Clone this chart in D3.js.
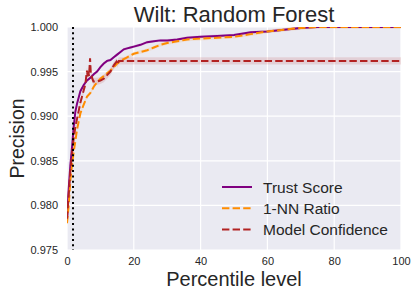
<!DOCTYPE html>
<html>
<head>
<meta charset="utf-8">
<script src="https://cdn.jsdelivr.net/npm/d3@7"></script>
<style>
  body { margin: 0; background: #fff; }
  svg { display: block; font-family: "Liberation Sans", Arial, sans-serif; }
</style>
</head>
<body>
<svg width="417" height="297"></svg>
<script>
// percentile levels and precision
var trustX = [0, 0.5, 1, 1.5, 2, 2.5, 3, 3.5, 4, 5, 6, 7, 8, 9, 10, 11, 12, 13, 14, 15, 16, 17, 18, 19, 20, 22, 24, 26, 28, 30, 33, 36, 40, 45, 50, 55, 60, 65, 70, 75, 80, 90, 100];
var trustY = [0.9783, 0.9818, 0.9845, 0.9865, 0.9888, 0.9905, 0.9914, 0.9921, 0.9928, 0.9935, 0.9940, 0.9943, 0.9947, 0.9950, 0.9955, 0.9959, 0.9962, 0.9963, 0.9966, 0.9969, 0.9972, 0.9975, 0.9976, 0.9977, 0.9978, 0.9980, 0.9983, 0.9984, 0.9985, 0.9985, 0.9986, 0.9988, 0.9989, 0.9990, 0.9991, 0.9994, 0.9995, 0.9997, 0.9999, 1.0, 1.0, 1.0, 1.0];

var nnX = [0, 0.5, 1, 1.5, 2, 2.5, 3, 3.5, 4, 5, 6, 7, 8, 9, 10, 11, 12, 13, 14, 15, 16, 17, 18, 19, 20, 22, 24, 26, 28, 30, 33, 36, 40, 45, 50, 55, 60, 65, 70, 75, 80, 90, 100];
var nnY = [0.9780, 0.9800, 0.9828, 0.9845, 0.9860, 0.9872, 0.9885, 0.9894, 0.9903, 0.9913, 0.9922, 0.9926, 0.9933, 0.9938, 0.9942, 0.9945, 0.9948, 0.9951, 0.9955, 0.9959, 0.9962, 0.9964, 0.9966, 0.9968, 0.9970, 0.9972, 0.9974, 0.9977, 0.9980, 0.9982, 0.9984, 0.9986, 0.9987, 0.9988, 0.9989, 0.9992, 0.9995, 0.9997, 0.9999, 1.0, 1.0, 1.0, 1.0];

var mcX = [0, 0.5, 1, 1.5, 2, 2.5, 3, 3.5, 4, 4.5, 5, 5.5, 5.8, 6.0, 6.2, 6.4, 6.6, 6.9, 7.1, 7.4, 7.9, 9, 10, 11, 12, 13, 14, 14.8, 15, 15.5, 20, 40, 60, 80, 100];
var mcY = [0.9785, 0.9812, 0.9838, 0.9858, 0.9875, 0.9888, 0.9897, 0.9906, 0.9915, 0.9922, 0.9929, 0.9936, 0.9946, 0.9951, 0.9944, 0.9950, 0.9945, 0.9965, 0.9950, 0.9944, 0.9939, 0.9939, 0.9940, 0.9942, 0.9946, 0.9950, 0.9957, 0.9961, 0.9958, 0.9962, 0.9962, 0.9962, 0.9962, 0.9962, 0.9962];

// half width of the shaded band round each curve
var bandHalf = [0.00015, 0.0002, 0.0004];

var seriesNames = ["Trust Score", "1-NN Ratio", "Model Confidence"];
var cutoff = 1.8;

var xTicks = [0, 20, 40, 60, 80, 100];
var yTicks = [0.975, 0.980, 0.985, 0.990, 0.995, 1.000];

var colors = ["#800080", "#ff8c00", "#b22222"];

var svg = d3.select("svg");
var pl = 67, pr = 401, pt = 27, pb = 250;

var x = d3.scaleLinear().domain([0, 100]).range([pl, pr]);
var y = d3.scaleLinear().domain([0.975, 1.0]).range([pb, pt]);

svg.append("rect")
    .attr("x", pl).attr("y", pt)
    .attr("width", pr - pl).attr("height", pb - pt)
    .attr("fill", "#eaeaf2");

svg.append("defs").append("clipPath").attr("id", "plotclip")
    .append("rect")
    .attr("x", pl).attr("y", pt)
    .attr("width", pr - pl).attr("height", pb - pt);

// grid
svg.append("g").selectAll("line")
    .data(xTicks)
    .enter().append("line")
    .attr("x1", d => x(d)).attr("x2", d => x(d))
    .attr("y1", pt).attr("y2", pb)
    .attr("stroke", "#fff").attr("stroke-width", 1.2);

svg.append("g").selectAll("line")
    .data(yTicks)
    .enter().append("line")
    .attr("x1", pl).attr("x2", pr)
    .attr("y1", d => y(d)).attr("y2", d => y(d))
    .attr("stroke", "#fff").attr("stroke-width", 1.2);

// axes, no tick lines (seaborn darkgrid)
var xAxis = svg.append("g")
    .attr("transform", "translate(0," + pb + ")")
    .call(d3.axisBottom(x).tickValues(xTicks).tickSize(0).tickPadding(7).tickFormat(d3.format("d")));
var yAxis = svg.append("g")
    .attr("transform", "translate(" + pl + ",0)")
    .call(d3.axisLeft(y).tickValues(yTicks).tickSize(0).tickPadding(9).tickFormat(d3.format(".3f")));

[xAxis, yAxis].forEach(function(a) {
    a.select(".domain").remove();
    a.selectAll("text")
        .attr("font-family", "Liberation Sans, Arial, sans-serif")
        .attr("font-size", 11)
        .attr("fill", "#262626");
});

var plot = svg.append("g").attr("clip-path", "url(#plotclip)");

var series = [
    {xs: trustX, ys: trustY},
    {xs: nnX, ys: nnY},
    {xs: mcX, ys: mcY}
];

series.forEach(function(s, i) {
    var pts = s.xs.map((v, j) => [v, s.ys[j]]);
    var area = d3.area()
        .x(d => x(d[0]))
        .y0(d => y(d[1] - bandHalf[i]))
        .y1(d => y(d[1] + bandHalf[i]));
    plot.append("path")
        .attr("d", area(pts))
        .attr("fill", colors[i])
        .attr("fill-opacity", 0.13);
});

var line = d3.line().x(d => x(d[0])).y(d => y(d[1]));

series.forEach(function(s, i) {
    var pts = s.xs.map((v, j) => [v, s.ys[j]]);
    plot.append("path")
        .attr("d", line(pts))
        .attr("fill", "none")
        .attr("stroke", colors[i])
        .attr("stroke-width", 2)
        .attr("stroke-dasharray", i == 0 ? null : "7.4,3.2");
});

// cutoff marker
plot.append("line")
    .attr("x1", x(cutoff)).attr("x2", x(cutoff))
    .attr("y1", pt).attr("y2", pb)
    .attr("stroke", "#000")
    .attr("stroke-width", 2)
    .attr("stroke-dasharray", "2,3.3");

// title and labels
svg.append("text")
    .attr("x", (pl + pr) / 2).attr("y", 21.5)
    .attr("text-anchor", "middle")
    .attr("font-size", 22)
    .attr("fill", "#262626")
    .text("Wilt: Random Forest");

svg.append("text")
    .attr("x", (pl + pr) / 2).attr("y", 285.5)
    .attr("text-anchor", "middle")
    .attr("font-size", 20)
    .attr("fill", "#262626")
    .text("Percentile level");

svg.append("text")
    .attr("transform", "translate(24," + (pt + pb) / 2 + ") rotate(-90)")
    .attr("text-anchor", "middle")
    .attr("font-size", 19.5)
    .attr("fill", "#262626")
    .text("Precision");

// legend
var legend = svg.append("g").attr("transform", "translate(222,187)");
seriesNames.forEach(function(name, i) {
    var row = legend.append("g").attr("transform", "translate(0," + (i * 21.3) + ")");
    row.append("line")
        .attr("x1", 0).attr("x2", 30)
        .attr("stroke", colors[i])
        .attr("stroke-width", 2)
        .attr("stroke-dasharray", i == 0 ? null : "7.4,3.2");
    row.append("text")
        .attr("x", 41).attr("y", 5.5)
        .attr("font-size", 15.5)
        .attr("fill", "#262626")
        .text(name);
});
</script>
</body>
</html>
